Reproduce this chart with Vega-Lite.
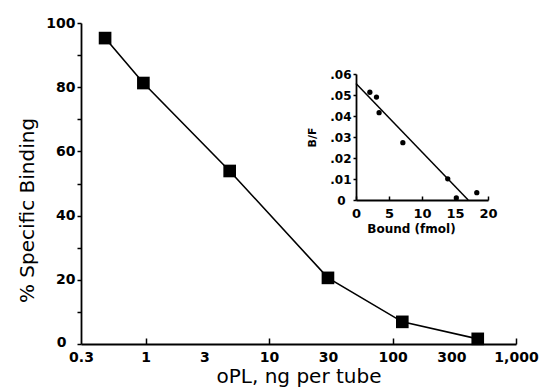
{
  "$schema": "https://vega.github.io/schema/vega-lite/v6.json",
  "width": 435,
  "height": 321,
  "autosize": "none",
  "padding": {"left": 81, "top": 23, "right": 23, "bottom": 45},
  "background": "white",
  "config": {
    "view": {"stroke": null},
    "font": "DejaVu Sans",
    "axis": {
      "grid": false,
      "domainColor": "black",
      "domainWidth": 1.8,
      "tickColor": "black",
      "tickWidth": 1.5,
      "labelColor": "black",
      "titleColor": "black",
      "labelFont": "DejaVu Sans",
      "titleFont": "DejaVu Sans",
      "labelFontWeight": "bold",
      "titleFontWeight": "normal"
    }
  },
  "datasets": {
    "main": [
      {"opl": 0.47, "binding": 95.3},
      {"opl": 0.96, "binding": 81.3},
      {"opl": 4.8, "binding": 53.9},
      {"opl": 30, "binding": 20.6},
      {"opl": 120, "binding": 6.9},
      {"opl": 490, "binding": 1.6}
    ],
    "scatch": [
      {"bound": 2.1, "bf": 0.0513},
      {"bound": 3.1, "bf": 0.049},
      {"bound": 3.5, "bf": 0.0416},
      {"bound": 7.1, "bf": 0.0273},
      {"bound": 13.9, "bf": 0.0101},
      {"bound": 15.2, "bf": 0.001},
      {"bound": 18.3, "bf": 0.0035}
    ],
    "fit": [
      {"bound": 0, "bf": 0.0555},
      {"bound": 17.0, "bf": 0}
    ]
  },
  "layer": [
    {
      "data": {"name": "main"},
      "encoding": {
        "x": {
          "field": "opl",
          "type": "quantitative",
          "scale": {"type": "log", "domain": [0.3, 1000], "nice": false},
          "axis": {
            "title": "oPL, ng per tube",
            "values": [0.3, 1, 3, 10, 30, 100, 300, 1000],
            "format": ",",
            "tickSize": -6,
            "tickOpacity": {"condition": {"test": "datum.value == 1 || datum.value == 10 || datum.value == 100 || datum.value == 1000", "value": 1}, "value": 0},
            "labelFontSize": 14,
            "labelPadding": 12,
            "labelOverlap": false,
            "labelFlush": false,
            "titleFontSize": 20,
            "titlePadding": 2
          }
        },
        "y": {
          "field": "binding",
          "type": "quantitative",
          "scale": {"domain": [0, 100], "nice": false},
          "axis": {
            "title": "% Specific Binding",
            "values": [0, 10, 20, 30, 40, 50, 60, 70, 80, 90, 100],
            "labelExpr": "datum.value % 20 == 0 ? datum.label : ''",
            "tickSize": 4,
            "labelFontSize": 14,
            "labelPadding": {"condition": {"test": "datum.value == 0", "value": 11}, "value": 2},
            "labelBaseline": {"condition": {"test": "datum.value == 0", "value": "bottom"}, "value": "middle"},
            "labelOffset": {"condition": {"test": "datum.value == 0", "value": 5}, "value": 0},
            "titleFontSize": 20,
            "titlePadding": 8,
            "titleY": 187
          }
        }
      },
      "layer": [
        {"mark": {"type": "line", "color": "black", "strokeWidth": 1.6}},
        {"mark": {"type": "point", "shape": "square", "filled": true, "color": "black", "opacity": 1, "size": 160}}
      ]
    },
    {
      "encoding": {
        "x": {
          "field": "bound",
          "type": "quantitative",
          "scale": {"domain": [0, 20], "nice": false, "range": [275, 407]},
          "axis": {
            "orient": "bottom",
            "offset": -144,
            "title": "Bound (fmol)",
            "values": [0, 5, 10, 15, 20],
            "tickSize": -4,
            "labelFontSize": 13,
            "labelPadding": 11,
            "labelFlush": false,
            "titleFontSize": 12,
            "titleFontWeight": "bold",
            "titlePadding": 3,
            "titleX": 330
          }
        },
        "y": {
          "field": "bf",
          "type": "quantitative",
          "scale": {"domain": [0, 0.06], "nice": false, "range": [177, 51]},
          "axis": {
            "orient": "left",
            "offset": -275,
            "title": "B/F",
            "values": [0, 0.01, 0.02, 0.03, 0.04, 0.05, 0.06],
            "labelExpr": "datum.value == 0 ? '0' : replace(format(datum.value, '.2f'), '0.', '.')",
            "tickSize": 3,
            "labelFontSize": 12,
            "labelPadding": {"condition": {"test": "datum.value == 0", "value": 8}, "value": 2},
            "titleFontSize": 11,
            "titleFontWeight": "bold",
            "titlePadding": 12
          }
        }
      },
      "layer": [
        {"data": {"name": "fit"}, "mark": {"type": "line", "color": "black", "strokeWidth": 1.5}},
        {"data": {"name": "scatch"}, "mark": {"type": "circle", "color": "black", "opacity": 1, "size": 28}}
      ]
    }
  ],
  "resolve": {
    "scale": {"x": "independent", "y": "independent"},
    "axis": {"x": "independent", "y": "independent"}
  }
}
